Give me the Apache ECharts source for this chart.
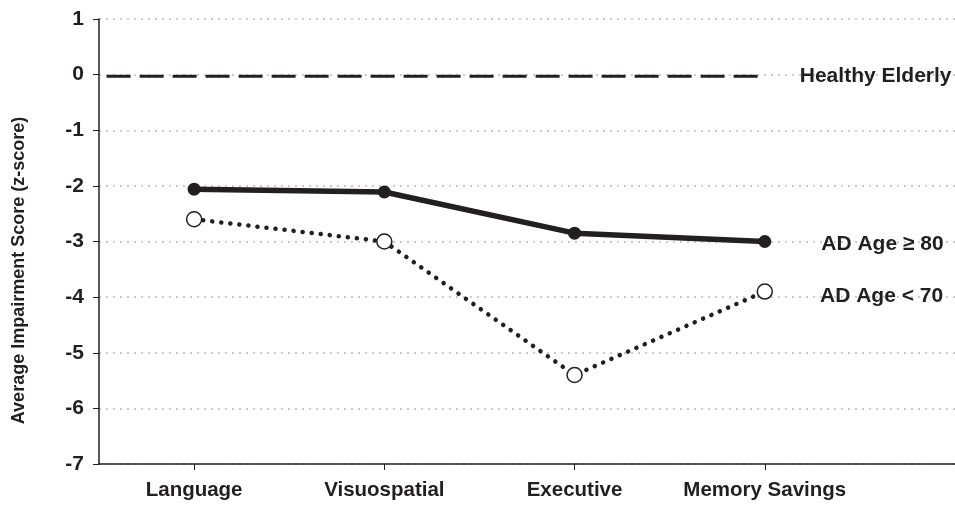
<!DOCTYPE html>
<html><head><meta charset="utf-8">
<script src="https://cdn.jsdelivr.net/npm/echarts@6/dist/echarts.min.js"></script>
<style>html,body{margin:0;padding:0;background:#fff}#c{width:955px;height:506px}</style>
</head><body><div id="c"></div>
<script>
var categories = ['Language', 'Visuospatial', 'Executive', 'Memory Savings'];
var yTicks = [1, 0, -1, -2, -3, -4, -5, -6, -7];
var healthyX = [-0.46, 3];
var healthyY = [-0.03, -0.03];
var adOld = [-2.06, -2.11, -2.85, -3.0];
var adYoung = [-2.6, -3.0, -5.4, -3.9];
var seriesNames = ['Healthy Elderly', 'AD Age \u2265 80', 'AD Age < 70'];

var FONT = 'Liberation Sans, Arial, Helvetica, sans-serif';
function pts(vals){ return vals.map(function(v,i){ return [i, v]; }); }
function lastLabel(name, dist, dy){
  return {show:true, position:'right', distance:dist, offset:[0,dy], formatter:name,
    fontFamily:FONT, fontWeight:'bold', fontSize:21, color:'#231f20'};
}
var healthyData = healthyX.map(function(x,i){ return [x, healthyY[i]]; });
var oldData = pts(adOld);
var youngData = pts(adYoung);
oldData[oldData.length-1] = {value: oldData[oldData.length-1], label: lastLabel(seriesNames[1], 50, 3)};
youngData[youngData.length-1] = {value: youngData[youngData.length-1], label: lastLabel(seriesNames[2], 47, 5)};
healthyData[healthyData.length-1] = {value: healthyData[healthyData.length-1], label: lastLabel(seriesNames[0], 35, 0)};

var chart = echarts.init(document.getElementById('c'));
chart.setOption({
  animation:false,
  grid:{left:99, right:0, top:19, bottom:42, containLabel:false},
  xAxis:{type:'value', min:-0.5, max:4,
    axisLine:{show:true, onZero:false, lineStyle:{color:'#231f20', width:1.5}},
    axisTick:{show:true, customValues:[0,1,2,3], length:6, lineStyle:{color:'#231f20', width:1}},
    axisLabel:{show:true, customValues:[0,1,2,3], margin:16,
      formatter:function(v){ return categories[Math.round(v)] || ''; },
      fontFamily:FONT, fontWeight:'bold', fontSize:20.5, color:'#231f20'},
    splitLine:{show:false}},
  yAxis:{type:'value', min:-7, max:1, interval:1,
    name:'Average Impairment Score (z-score)', nameLocation:'middle', nameGap:71,
    nameTextStyle:{fontFamily:FONT, fontWeight:'bold', fontSize:18, color:'#231f20', padding:[0,58,0,0]},
    axisLine:{show:true, onZero:false, lineStyle:{color:'#231f20', width:1.5}},
    axisTick:{show:true, length:6, lineStyle:{color:'#231f20', width:1}},
    axisLabel:{margin:15, fontFamily:FONT, fontWeight:'bold', fontSize:21, color:'#231f20',
      formatter:function(v){ return yTicks.indexOf(v) >= 0 ? String(v) : ''; }},
    splitLine:{show:true, lineStyle:{color:'#cccccc', width:2, type:[2,5]}}},
  series:[
    {name:seriesNames[0], type:'line', data:healthyData, showSymbol:true, symbol:'circle', symbolSize:0,
      itemStyle:{color:'#231f20'},
      lineStyle:{color:'#231f20', width:3, type:[24,9]}, z:3},
    {name:seriesNames[1], type:'line', data:oldData, symbol:'circle', symbolSize:13,
      itemStyle:{color:'#231f20'}, lineStyle:{color:'#231f20', width:5.5}, z:4},
    {name:seriesNames[2], type:'line', data:youngData, symbol:'circle', symbolSize:15,
      itemStyle:{color:'#ffffff', borderColor:'#231f20', borderWidth:1.5},
      lineStyle:{color:'#231f20', width:4.5, type:[0.1,9], cap:'round'}, z:5}
  ]
});
</script></body></html>
